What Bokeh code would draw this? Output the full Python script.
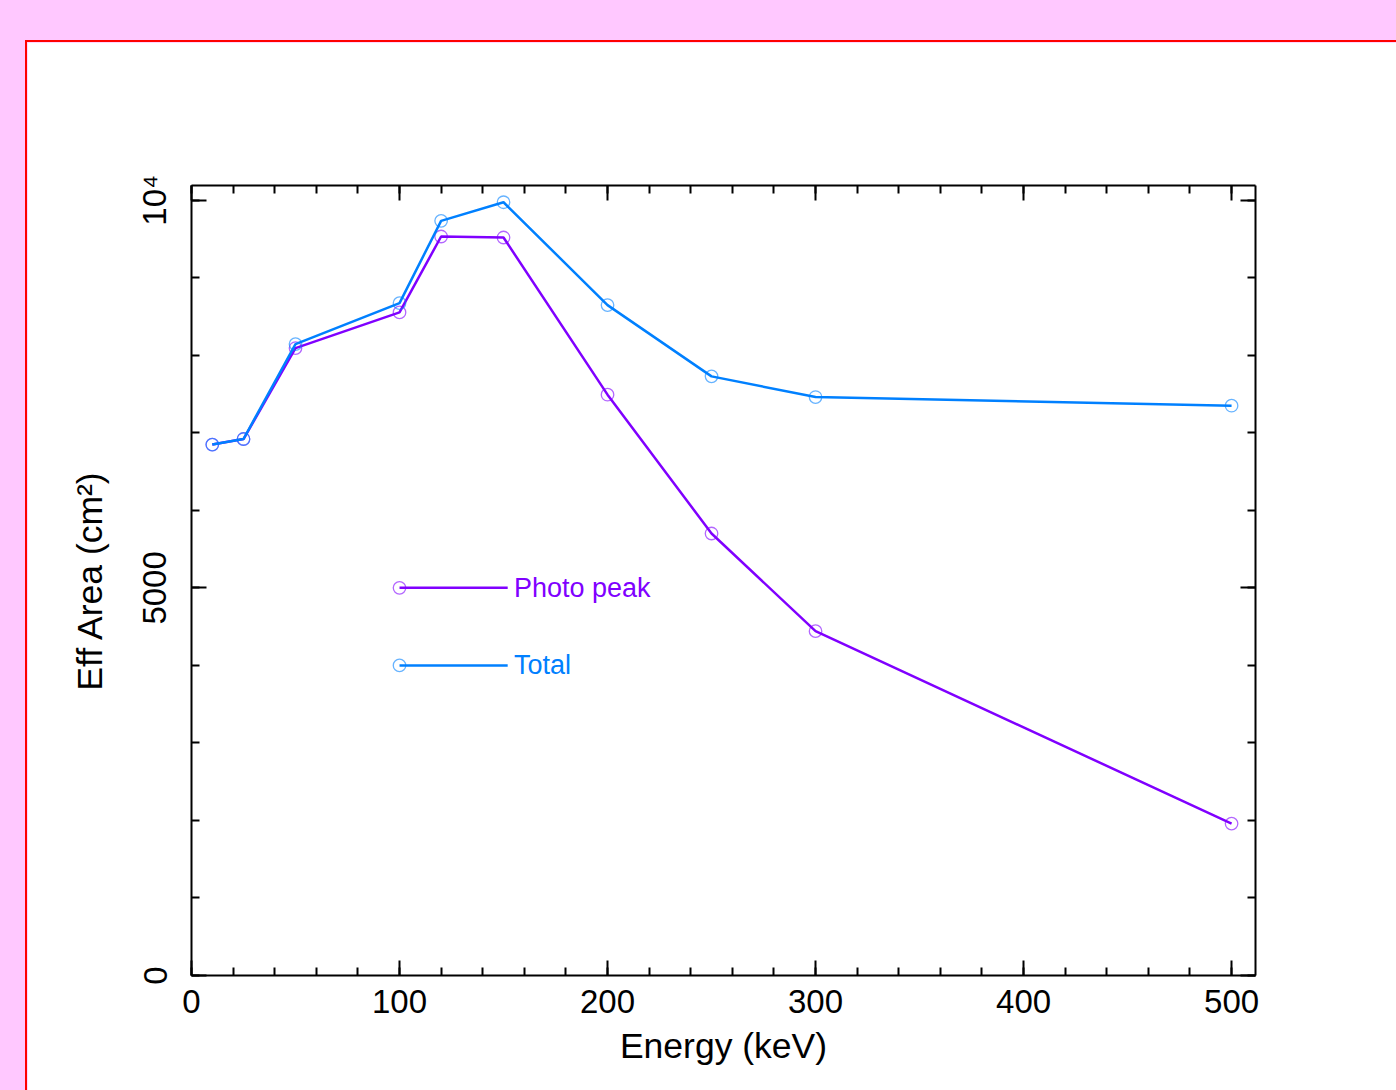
from bokeh.plotting import figure
from bokeh.models import Range1d, LinearAxis, FixedTicker, ColumnDataSource
from bokeh.core.properties import value
from bokeh.embed import file_html
from bokeh.resources import INLINE

# ---- data ----
energy = [10, 25, 50, 100, 120, 150, 200, 250, 300, 500]
photo_peak = [6848, 6920, 8093, 8553, 9532, 9519, 7492, 5701, 4442, 1959]
total = [6848, 6920, 8144, 8673, 9734, 9974, 8647, 7728, 7461, 7350]
series_names = ["Photo peak", "Total"]
x_ticks = [0, 100, 200, 300, 400, 500]
x_minor = list(range(0, 520, 20))
y_ticks = [0, 5000, 10000]
y_tick_labels = ["0", "5000", "10\u2074"]
y_minor = list(range(0, 11000, 1000))

PURPLE = "#8000ff"
BLUE = "#0080ff"
FONT = "Liberation Sans"

p = figure(width=1375, height=1054, output_backend="svg", toolbar_location=None,
           x_range=Range1d(0, 511.5), y_range=Range1d(0, 10190),
           min_border_left=164, min_border_right=147, min_border_top=143, min_border_bottom=121,
           background_fill_color="white", border_fill_color="white")
p.margin = (40, 0, 0, 25)
p.styles = {"border-top": "2px solid #ff0000", "border-left": "2px solid #ff0000"}
p.xgrid.visible = False
p.ygrid.visible = False
p.outline_line_color = None

def style_axis(ax, ticks, minor, show_labels):
    ax.ticker = FixedTicker(ticks=ticks, minor_ticks=minor)
    ax.axis_line_color = "black"
    ax.axis_line_width = 2
    ax.major_tick_line_color = "black"
    ax.major_tick_line_width = 2
    ax.minor_tick_line_color = "black"
    ax.minor_tick_line_width = 2
    ax.major_tick_in = 15
    ax.major_tick_out = 0
    ax.minor_tick_in = 8
    ax.minor_tick_out = 0
    ax.major_label_text_font = FONT
    ax.major_label_text_font_size = "33px"
    ax.major_label_text_color = "black" if show_labels else None
    ax.axis_label_text_font = FONT
    ax.axis_label_text_font_size = "35.5px"
    ax.axis_label_text_font_style = "normal"
    ax.axis_label_text_color = "black"

xa = p.xaxis[0]
ya = p.yaxis[0]
style_axis(xa, x_ticks, x_minor, True)
style_axis(ya, y_ticks, y_minor, True)
xa.axis_label = "Energy (keV)"
ya.axis_label = "Eff Area (cm\u00b2)"
ya.major_label_overrides = {t: l for t, l in zip(y_ticks, y_tick_labels)}
ya.major_label_orientation = "vertical"
xa.major_label_standoff = 14
xa.axis_label_standoff = 10
ya.major_label_standoff = 18
ya.axis_label_standoff = 24

top = LinearAxis()
style_axis(top, x_ticks, x_minor, False)
top.major_label_standoff = 0
p.add_layout(top, "above")
right = LinearAxis()
style_axis(right, y_ticks, y_minor, False)
right.major_label_standoff = 0
p.add_layout(right, "right")

# ---- series ----
for ys, col in [(photo_peak, PURPLE), (total, BLUE)]:
    src = ColumnDataSource(dict(x=energy, y=ys))
    p.line("x", "y", source=src, line_color=col, line_width=2.5)
    p.scatter("x", "y", source=src, marker="circle", size=12.5, fill_color=None,
              line_color=col, line_alpha=0.6, line_width=1.3)

# ---- legend drawn in data space ----
leg_x0, leg_x1, leg_tx = 100, 152, 155
leg_y = [5000, 4000]
for name, col, ly in zip(series_names, [PURPLE, BLUE], leg_y):
    p.line([leg_x0, leg_x1], [ly, ly], line_color=col, line_width=2.5)
    p.scatter([leg_x0], [ly], marker="circle", size=12.5, fill_color=None,
              line_color=col, line_alpha=0.6, line_width=1.3)
    p.text([leg_tx], [ly], text=[name], text_color=col, text_font=value(FONT),
           text_font_size="27px", text_align="left", text_baseline="middle")

html = file_html(p, INLINE)
html = html.replace("</head>", "<style>html,body{margin:0;padding:0;background:#ffc8ff;overflow:hidden}</style></head>", 1)
open("out.html", "w").write(html)
